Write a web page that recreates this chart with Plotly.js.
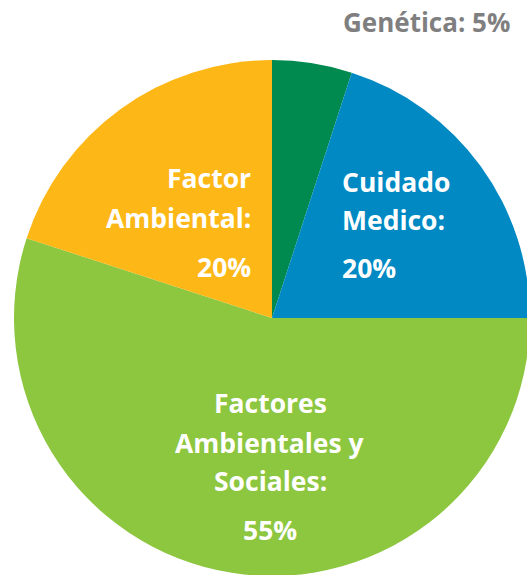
<!DOCTYPE html>
<html>
<head>
<meta charset="utf-8">
<script src="https://cdn.plot.ly/plotly-3.0.1.min.js"></script>
<style>
html,body{margin:0;padding:0;overflow:hidden;background:#fff;width:527px;height:575px;}
#chart{position:absolute;left:0;top:0;}
</style>
</head>
<body>
<div id="chart"></div>
<script>
// Data
const labels = ['Genética', 'Cuidado Medico', 'Factores Ambientales y Sociales', 'Factor Ambiental'];
const values = [5, 20, 55, 20];
const colors = ['#008A4F', '#0089C3', '#8DC63F', '#FDB716'];
const labelLines = [
  ['Genética: 5%'],
  ['Cuidado', 'Medico:'],
  ['Factores', 'Ambientales y', 'Sociales:'],
  ['Factor', 'Ambiental:']
];
const pctText = ['', '20%', '55%', '20%'];

// Layout geometry (pixels in a 540x580 canvas, clipped by the window)
const W = 540, H = 580;
const cx = 272, cy = 318, R = 258;
const px = x => x / W;
const py = y => 1 - y / H;

const font = '"Open Sans", sans-serif';
const annotations = [];
function add(text, x, y, anchor, color, size) {
  annotations.push({
    text: '<b>' + text + '</b>', xref: 'paper', yref: 'paper',
    x: px(x), y: py(y), xanchor: anchor, yanchor: 'middle',
    showarrow: false, font: {family: font, size: size || 26.5, color: color}
  });
}
// Genética (outside, grey)
add(labelLines[0][0], 512, 22, 'right', '#7F7F7F', 26);
// Cuidado Medico
[182, 220].forEach((y, i) => add(labelLines[1][i], 340, y, 'left', '#FFFFFF'));
add(pctText[1], 340, 268, 'left', '#FFFFFF');
// Factores Ambientales y Sociales
[403, 443, 481].forEach((y, i) => add(labelLines[2][i], 270, y, 'center', '#FFFFFF'));
add(pctText[2], 270, 530, 'center', '#FFFFFF');
// Factor Ambiental
[178, 218].forEach((y, i) => add(labelLines[3][i], 253, y, 'right', '#FFFFFF'));
add(pctText[3], 253, 267, 'right', '#FFFFFF');

const trace = {
  type: 'pie',
  labels: labels,
  values: values,
  marker: {colors: colors, line: {width: 0}},
  sort: false,
  direction: 'clockwise',
  rotation: 0,
  textinfo: 'none',
  hoverinfo: 'label+percent',
  showlegend: false,
  domain: {x: [px(cx - R), px(cx + R)], y: [py(cy + R), py(cy - R)]}
};

Plotly.newPlot('chart', [trace], {
  width: W, height: H,
  margin: {l: 0, r: 0, t: 0, b: 0},
  paper_bgcolor: '#ffffff',
  showlegend: false,
  annotations: annotations
}, {displayModeBar: false, staticPlot: true});
</script>
</body>
</html>
